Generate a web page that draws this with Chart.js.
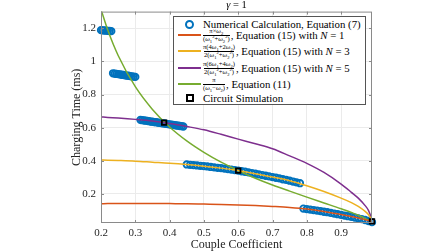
<!DOCTYPE html>
<html>
<head>
<meta charset="utf-8">
<script src="https://cdn.jsdelivr.net/npm/chart.js@4.4.1/dist/chart.umd.min.js"></script>
<style>
html, body { margin: 0; padding: 0; background: #fff; }
#wrap { position: relative; width: 448px; height: 252px; }
#legend { position: absolute; left: 173px; top: 16px; width: 193px; height: 89px; border: 1px solid #555; background: #fff;
  box-sizing: border-box; font-family: "Liberation Serif", serif; font-size: 10.8px; color: #000; }
.row { position: absolute; left: 0; height: 0; display: flex; align-items: center; white-space: nowrap; }
.mk { width: 27px; margin-left: 2px; display: flex; justify-content: center; align-items: center; }
.ln { width: 23px; height: 2px; }
.circ { width: 5px; height: 5px; border: 2px solid #0072BD; border-radius: 50%; }
.sq { width: 4px; height: 4px; border: 2px solid #000; background: #fff; }
.frac { display: inline-flex; flex-direction: column; align-items: center; font-size: 6.6px; line-height: 6.5px; margin-right: 1px; }
.frac .den { border-top: 0.7px solid #000; }
.frac sub, .frac sup { font-size: 4.6px; line-height: 0; }
</style>
</head>
<body>
<div id="wrap">
<canvas id="chart" width="448" height="252"></canvas>
<div id="legend">
  <div class="row" style="top:7px"><span class="mk"><span class="circ"></span></span>Numerical Calculation, Equation (7)</div>
  <div class="row" style="top:18px"><span class="mk"><span class="ln" style="background:#D95319"></span></span><span class="frac"><span>π×<i>ω</i><sub>2</sub></span><span class="den">(<i>ω</i><sub>1</sub><sup>2</sup>+<i>ω</i><sub>2</sub><sup>2</sup>)</span></span>, Equation (15) with <i>&nbsp;N</i>&nbsp;= 1</div>
  <div class="row" style="top:34px"><span class="mk"><span class="ln" style="background:#EDB120"></span></span><span class="frac"><span>π(4<i>ω</i><sub>1</sub>+2<i>ω</i><sub>2</sub>)</span><span class="den">2(<i>ω</i><sub>1</sub><sup>2</sup>+<i>ω</i><sub>2</sub><sup>2</sup>)</span></span>, Equation (15) with <i>&nbsp;N</i>&nbsp;= 3</div>
  <div class="row" style="top:51px"><span class="mk"><span class="ln" style="background:#7E2F8E"></span></span><span class="frac"><span>π(6<i>ω</i><sub>1</sub>+4<i>ω</i><sub>2</sub>)</span><span class="den">2(<i>ω</i><sub>1</sub><sup>2</sup>+<i>ω</i><sub>2</sub><sup>2</sup>)</span></span>, Equation (15) with <i>&nbsp;N</i>&nbsp;= 5</div>
  <div class="row" style="top:67px"><span class="mk"><span class="ln" style="background:#77AC30"></span></span><span class="frac"><span>π</span><span class="den">(<i>ω</i><sub>1</sub>−<i>ω</i><sub>2</sub>)</span></span>, Equation (11)</div>
  <div class="row" style="top:81px"><span class="mk"><span class="sq"></span></span>Circuit Simulation</div>
</div>
</div>
<script>
// numerical calculation, equation (7) - five runs
var numK1 = [0.20, 0.205, 0.21, 0.215, 0.22, 0.225, 0.23];
var numT1 = [1.188, 1.187, 1.186, 1.185, 1.184, 1.183, 1.182];
var numK2 = [0.235, 0.24, 0.245, 0.25, 0.255, 0.26, 0.265, 0.27, 0.275, 0.28, 0.285, 0.29, 0.295, 0.30];
var numT2 = [0.928, 0.926, 0.924, 0.923, 0.921, 0.919, 0.918, 0.916, 0.914, 0.913, 0.911, 0.909, 0.908, 0.906];
var numK3 = [0.315, 0.32, 0.325, 0.33, 0.335, 0.34, 0.345, 0.35, 0.355, 0.36, 0.365, 0.37, 0.375,
             0.38, 0.385, 0.39, 0.395, 0.40, 0.405, 0.41, 0.415, 0.42, 0.425, 0.43, 0.435, 0.44];
var numT3 = [0.647, 0.645, 0.644, 0.642, 0.641, 0.639, 0.637, 0.636, 0.634, 0.633, 0.631, 0.629, 0.628,
             0.626, 0.625, 0.623, 0.621, 0.620, 0.618, 0.617, 0.615, 0.613, 0.612, 0.610, 0.609, 0.607];
var numK4 = [0.45, 0.46, 0.47, 0.48, 0.49, 0.50, 0.51, 0.52, 0.53, 0.54, 0.55, 0.56, 0.57, 0.58, 0.59, 0.60, 0.61,
             0.62, 0.63, 0.64, 0.65, 0.66, 0.67, 0.68, 0.69, 0.70, 0.71, 0.72, 0.73, 0.74, 0.75, 0.76, 0.77, 0.78];
var numT4 = [0.378, 0.376, 0.374, 0.372, 0.370, 0.368, 0.366, 0.363, 0.361, 0.358, 0.356, 0.353, 0.350, 0.347, 0.344, 0.341, 0.337,
             0.334, 0.330, 0.326, 0.322, 0.318, 0.314, 0.310, 0.306, 0.302, 0.298, 0.294, 0.289, 0.285, 0.280, 0.275, 0.270, 0.265];
var numK5 = [0.79, 0.80, 0.81, 0.82, 0.83, 0.84, 0.85, 0.86, 0.87, 0.88, 0.89, 0.90, 0.91, 0.92, 0.93, 0.94, 0.95, 0.96, 0.97, 0.98, 0.99];
var numT5 = [0.112, 0.109, 0.106, 0.103, 0.100, 0.097, 0.093, 0.090, 0.086, 0.082, 0.078, 0.074, 0.070, 0.066, 0.062, 0.058, 0.053, 0.048, 0.043, 0.037, 0.030];

// analytical curves
var curveK = [0.20, 0.22, 0.25, 0.30, 0.35, 0.40, 0.45, 0.50, 0.55, 0.60, 0.65, 0.70, 0.75, 0.80, 0.85, 0.90, 0.93, 0.95, 0.97, 0.98, 0.99];
var eq15N1 = [0.141, 0.142, 0.142, 0.143, 0.143, 0.142, 0.141, 0.139, 0.137, 0.134, 0.130, 0.125, 0.119, 0.110, 0.095, 0.076, 0.064, 0.055, 0.045, 0.040, 0.033];
var eq15N3 = [0.405, 0.404, 0.402, 0.398, 0.392, 0.386, 0.378, 0.368, 0.356, 0.341, 0.322, 0.302, 0.280, 0.250, 0.215, 0.175, 0.148, 0.125, 0.095, 0.075, 0.040];
var eq15N5 = [0.665, 0.662, 0.658, 0.650, 0.640, 0.625, 0.607, 0.587, 0.560, 0.531, 0.503, 0.473, 0.430, 0.385, 0.330, 0.260, 0.210, 0.175, 0.130, 0.100, 0.045];
var eq11 = [1.313, 1.187, 1.035, 0.847, 0.710, 0.604, 0.520, 0.451, 0.392, 0.341, 0.295, 0.254, 0.217, 0.181, 0.146, 0.111, 0.088, 0.072, 0.053, 0.042, 0.032];

// circuit simulation
var simK = [0.384, 0.60, 0.99];
var simT = [0.630, 0.341, 0.035];

var xTicks = [0.2, 0.3, 0.4, 0.5, 0.6, 0.7, 0.8, 0.9];
var yTicks = [0.2, 0.4, 0.6, 0.8, 1, 1.2];

function pts(xs, ys) {
    return xs.map(function(x, i) { return {x: x, y: ys[i]}; });
}

var numK = numK1.concat(numK2, numK3, numK4, numK5);
var numT = numT1.concat(numT2, numT3, numT4, numT5);

function curve(label, ys, color) {
    return {
        type: 'line', label: label, data: pts(curveK, ys), borderColor: color, borderWidth: 1.5,
        pointRadius: 0, fill: false, cubicInterpolationMode: 'monotone', order: 2
    };
}

var frame = {
    id: 'frame',
    afterDraw: function(chart) {
        var c = chart.ctx, a = chart.chartArea, xs = chart.scales.x, ys = chart.scales.y;
        c.save();
        c.strokeStyle = '#8a8a8a';
        c.lineWidth = 1;
        c.strokeRect(a.left + 0.5, a.top + 0.5, a.right - a.left - 1, a.bottom - a.top - 1);
        c.beginPath();
        xTicks.forEach(function(v) {
            var p = Math.round(xs.getPixelForValue(v)) + 0.5;
            c.moveTo(p, a.bottom); c.lineTo(p, a.bottom - 3);
            c.moveTo(p, a.top); c.lineTo(p, a.top + 3);
        });
        yTicks.forEach(function(v) {
            var p = Math.round(ys.getPixelForValue(v)) + 0.5;
            c.moveTo(a.left, p); c.lineTo(a.left + 3, p);
            c.moveTo(a.right, p); c.lineTo(a.right - 3, p);
        });
        c.stroke();

        var mid = (a.left + a.right) / 2;
        c.fillStyle = '#222';
        c.textAlign = 'center';
        c.textBaseline = 'middle';
        c.font = '12px "Liberation Serif"';
        c.fillText('Couple Coefficient', mid, 245);
        c.save();
        c.translate(77, (a.top + a.bottom) / 2);
        c.rotate(-Math.PI / 2);
        c.fillText('Charging Time (ms)', 0, 0);
        c.restore();

        // title: gamma = 1
        c.fillStyle = '#000';
        c.font = 'italic 10.5px "Liberation Serif"';
        var g = 'γ', rest = ' = 1';
        var gw = c.measureText(g).width;
        c.font = '10.5px "Liberation Serif"';
        var rw = c.measureText(rest).width;
        var x0 = mid - (gw + rw) / 2;
        c.textAlign = 'left';
        c.font = 'italic 10.5px "Liberation Serif"';
        c.fillText(g, x0, 5);
        c.font = '10.5px "Liberation Serif"';
        c.fillText(rest, x0 + gw, 5);
        c.restore();
    }
};

var tickFont = {family: '"Liberation Serif"', size: 11};

new Chart(document.getElementById('chart').getContext('2d'), {
    type: 'scatter',
    data: {
        datasets: [
            {
                label: 'Circuit Simulation', data: pts(simK, simT), pointStyle: 'rect', pointRadius: 3.2,
                borderColor: '#000', backgroundColor: 'rgba(0,0,0,0)', borderWidth: 1.8, clip: false, order: 0
            },
            curve('N = 1', eq15N1, '#D95319'),
            curve('N = 3', eq15N3, '#EDB120'),
            curve('N = 5', eq15N5, '#7E2F8E'),
            curve('Equation (11)', eq11, '#77AC30'),
            {
                label: 'Numerical Calculation', data: pts(numK, numT), pointStyle: 'circle', pointRadius: 3.2,
                borderColor: '#0072BD', backgroundColor: 'rgba(0,0,0,0)', borderWidth: 1.9, clip: false, order: 5
            }
        ]
    },
    options: {
        responsive: false,
        animation: false,
        devicePixelRatio: 1,
        layout: {padding: {left: 0, right: 76, top: 10, bottom: 0}},
        plugins: {legend: {display: false}, tooltip: {enabled: false}, title: {display: false}},
        scales: {
            x: {
                type: 'linear', min: 0.2, max: 0.99,
                afterBuildTicks: function(s) { s.ticks = xTicks.map(function(v) { return {value: v}; }); },
                afterFit: function(s) { s.height = 29; },
                grid: {color: '#ebebeb', drawTicks: false},
                border: {display: false},
                ticks: {font: tickFont, color: '#262626', padding: 4, maxRotation: 0,
                        callback: function(v) { return String(+v.toFixed(1)); }}
            },
            y: {
                type: 'linear', min: 0.025, max: 1.3,
                afterBuildTicks: function(s) { s.ticks = yTicks.map(function(v) { return {value: v}; }); },
                afterFit: function(s) { s.width = 101; },
                grid: {color: '#ebebeb', drawTicks: false},
                border: {display: false},
                ticks: {font: tickFont, color: '#262626', padding: 5,
                        callback: function(v) { return String(+v.toFixed(1)); }}
            }
        }
    },
    plugins: [frame]
});
</script>
</body>
</html>
